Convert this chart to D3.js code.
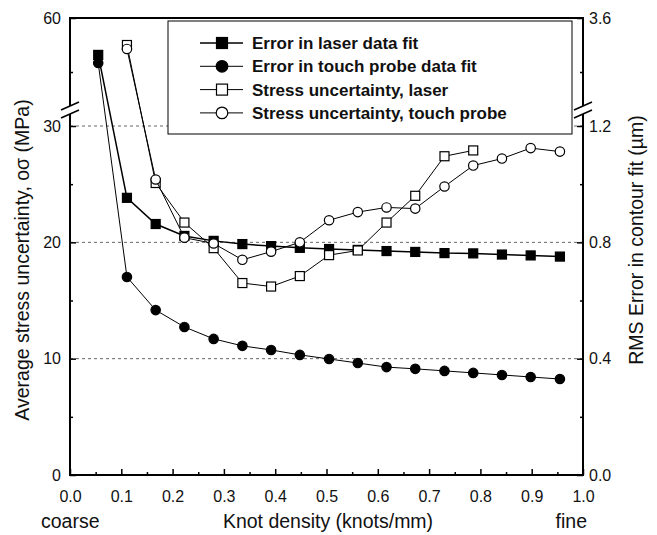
<!DOCTYPE html>
<html>
<head>
<meta charset="utf-8">
<script src="https://cdn.jsdelivr.net/npm/d3@7"></script>
<style>
  body { margin: 0; background: #fff; }
  svg text { font-family: Arial, "Liberation Sans", Helvetica, sans-serif; fill: #111; }
</style>
</head>
<body>
<div id="chart"></div>
<script>
const WIDTH = 657;
const HEIGHT = 535;

// knot density of each fit (knots/mm)
const knotDensity = [0.055, 0.111, 0.167, 0.223, 0.280, 0.336, 0.392, 0.448, 0.505,
  0.561, 0.617, 0.673, 0.730, 0.786, 0.842, 0.898, 0.955];

// RMS error in contour fit (um), right axis
const laserFitError = [2.78, 0.953, 0.863, 0.822, 0.805, 0.794, 0.787, 0.781, 0.777,
  0.774, 0.770, 0.767, 0.763, 0.762, 0.758, 0.755, 0.751];
const probeFitError = [2.60, 0.681, 0.567, 0.509, 0.468, 0.444, 0.430, 0.413, 0.399,
  0.385, 0.371, 0.365, 0.358, 0.351, 0.344, 0.337, 0.330];

// average stress uncertainty (MPa), left axis
const laserStress = [null, 52.5, 25.1, 21.7, 19.5, 16.5, 16.2, 17.1, 18.9,
  19.3, 21.7, 24.0, 27.4, 27.9, null, null, null];
const probeStress = [null, 51.4, 25.4, 20.4, 19.9, 18.5, 19.2, 20.0, 21.9,
  22.6, 23.0, 22.9, 24.8, 26.6, 27.2, 28.1, 27.8];

// tick labels
const xTicks = [0, 0.1, 0.2, 0.3, 0.4, 0.5, 0.6, 0.7, 0.8, 0.9, 1.0];
const xMinor = [0.05, 0.15, 0.25, 0.35, 0.45, 0.55, 0.65, 0.75, 0.85, 0.95];
const stressTicks = [0, 10, 20, 30, 60];
const stressMinor = [5, 15, 25, 45];
const rmsTicks = [0, 0.4, 0.8, 1.2, 3.6];
const rmsMinor = [0.2, 0.6, 1.0, 2.4];
const stressGrid = [10, 20, 30];

const legendNames = [
  'Error in laser data fit',
  'Error in touch probe data fit',
  'Stress uncertainty, laser',
  'Stress uncertainty, touch probe'
];

const plotLeft = 70, plotRight = 583, plotTop = 18, plotBottom = 475;

const x = d3.scaleLinear().domain([0, 1]).range([plotLeft, plotRight]);
// broken axes: lower part 0-30 (0-1.2), compressed upper part 30-60 (1.2-3.6)
const yStress = d3.scaleLinear().domain([0, 30, 60]).range([plotBottom, 126, plotTop]);
const yRms = d3.scaleLinear().domain([0, 1.2, 3.6]).range([plotBottom, 126, plotTop]);

const series = [
  { name: legendNames[0], values: laserFitError, y: yRms, shape: 'square', filled: true, lw: 1.5 },
  { name: legendNames[1], values: probeFitError, y: yRms, shape: 'circle', filled: true, lw: 1 },
  { name: legendNames[2], values: laserStress, y: yStress, shape: 'square', filled: false, lw: 1 },
  { name: legendNames[3], values: probeStress, y: yStress, shape: 'circle', filled: false, lw: 1 }
];

const svg = d3.select('#chart')
  .append('svg')
  .attr('width', WIDTH)
  .attr('height', HEIGHT);

// dashed grid lines
svg.append('g')
  .selectAll('line')
  .data(stressGrid)
  .enter()
  .append('line')
  .attr('x1', plotLeft)
  .attr('x2', plotRight)
  .attr('y1', d => yStress(d))
  .attr('y2', d => yStress(d))
  .attr('stroke', '#666')
  .attr('stroke-width', 1)
  .attr('stroke-dasharray', '3,3');

function styleAxis(g) {
  g.select('.domain').remove();
  g.selectAll('.tick line').attr('stroke', '#000').attr('stroke-width', 1.5);
  g.selectAll('.tick text').style('font-size', '16px');
}

// bottom axis
svg.append('g')
  .attr('transform', `translate(0,${plotBottom})`)
  .call(d3.axisBottom(x).tickValues(xTicks).tickSize(-6).tickPadding(16).tickFormat(d3.format('.1f')))
  .call(styleAxis);
svg.append('g')
  .attr('transform', `translate(0,${plotBottom})`)
  .call(d3.axisBottom(x).tickValues(xMinor).tickSize(-3).tickFormat(''))
  .call(styleAxis);

// left axis
svg.append('g')
  .attr('transform', `translate(${plotLeft},0)`)
  .call(d3.axisLeft(yStress).tickValues(stressTicks).tickSize(-6).tickPadding(9).tickFormat(d3.format('d')))
  .call(styleAxis);
svg.append('g')
  .attr('transform', `translate(${plotLeft},0)`)
  .call(d3.axisLeft(yStress).tickValues(stressMinor).tickSize(-3).tickFormat(''))
  .call(styleAxis);

// right axis
svg.append('g')
  .attr('transform', `translate(${plotRight},0)`)
  .call(d3.axisRight(yRms).tickValues(rmsTicks).tickSize(-6).tickPadding(6).tickFormat(d3.format('.1f')))
  .call(styleAxis);
svg.append('g')
  .attr('transform', `translate(${plotRight},0)`)
  .call(d3.axisRight(yRms).tickValues(rmsMinor).tickSize(-3).tickFormat(''))
  .call(styleAxis);

// frame
svg.append('rect')
  .attr('x', plotLeft)
  .attr('y', plotTop)
  .attr('width', plotRight - plotLeft)
  .attr('height', plotBottom - plotTop)
  .attr('fill', 'none')
  .attr('stroke', '#000')
  .attr('stroke-width', 2);

// axis break marks
const breakY = yStress(30) - 16;
[plotLeft, plotRight].forEach(ax => {
  svg.append('line')
    .attr('x1', ax).attr('x2', ax)
    .attr('y1', breakY - 4).attr('y2', breakY + 4)
    .attr('stroke', '#fff').attr('stroke-width', 4);
  [-4, 4].forEach(off => {
    svg.append('line')
      .attr('x1', ax - 9).attr('y1', breakY + off + 4)
      .attr('x2', ax + 9).attr('y2', breakY + off - 4)
      .attr('stroke', '#000').attr('stroke-width', 1.5);
  });
});

// data
series.forEach(s => {
  const pts = knotDensity.map((k, i) => ({ k, v: s.values[i] })).filter(d => d.v != null);
  const line = d3.line().x(d => x(d.k)).y(d => s.y(d.v));

  svg.append('path')
    .datum(pts)
    .attr('d', line)
    .attr('fill', 'none')
    .attr('stroke', '#000')
    .attr('stroke-width', s.lw);

  const g = svg.append('g');
  if (s.shape === 'square') {
    g.selectAll('rect')
      .data(pts)
      .enter()
      .append('rect')
      .attr('x', d => x(d.k) - 4.5)
      .attr('y', d => s.y(d.v) - 4.5)
      .attr('width', 9)
      .attr('height', 9)
      .attr('fill', s.filled ? '#000' : '#fff')
      .attr('stroke', '#000')
      .attr('stroke-width', 1.2);
  } else {
    g.selectAll('circle')
      .data(pts)
      .enter()
      .append('circle')
      .attr('cx', d => x(d.k))
      .attr('cy', d => s.y(d.v))
      .attr('r', 4.7)
      .attr('fill', s.filled ? '#000' : '#fff')
      .attr('stroke', '#000')
      .attr('stroke-width', 1.2);
  }
});

// legend
const legend = svg.append('g');
legend.append('rect')
  .attr('x', 168)
  .attr('y', 21)
  .attr('width', 404)
  .attr('height', 113)
  .attr('fill', '#fff')
  .attr('stroke', '#000')
  .attr('stroke-width', 1);

const rows = legend.selectAll('g.row')
  .data(series)
  .enter()
  .append('g')
  .attr('class', 'row')
  .attr('transform', (d, i) => `translate(0,${43 + i * 23.3})`);

rows.append('line')
  .attr('x1', 200).attr('x2', 243)
  .attr('stroke', '#000')
  .attr('stroke-width', d => d.lw);

rows.each(function(d) {
  const r = d3.select(this);
  if (d.shape === 'square') {
    r.append('rect').attr('x', 216.5).attr('y', -5.5).attr('width', 11).attr('height', 11)
      .attr('fill', d.filled ? '#000' : '#fff').attr('stroke', '#000').attr('stroke-width', 1.2);
  } else {
    r.append('circle').attr('cx', 222).attr('cy', 0).attr('r', 5.8)
      .attr('fill', d.filled ? '#000' : '#fff').attr('stroke', '#000').attr('stroke-width', 1.2);
  }
});

rows.append('text')
  .attr('x', 252)
  .attr('dy', '0.35em')
  .style('font-size', '17px')
  .style('font-weight', 'bold')
  .text(d => d.name);

// axis titles
svg.append('text')
  .attr('transform', `translate(29,260) rotate(-90)`)
  .attr('text-anchor', 'middle')
  .style('font-size', '19.5px')
  .text('Average stress uncertainty, oσ (MPa)');

svg.append('text')
  .attr('transform', `translate(643,240) rotate(-90)`)
  .attr('text-anchor', 'middle')
  .style('font-size', '19.5px')
  .text('RMS Error in contour fit (µm)');

svg.append('text')
  .attr('x', 328)
  .attr('y', 528)
  .attr('text-anchor', 'middle')
  .style('font-size', '19.5px')
  .text('Knot density (knots/mm)');

svg.append('text')
  .attr('x', 41)
  .attr('y', 528)
  .style('font-size', '19.5px')
  .text('coarse');

svg.append('text')
  .attr('x', 587)
  .attr('y', 528)
  .attr('text-anchor', 'end')
  .style('font-size', '19.5px')
  .text('fine');
</script>
</body>
</html>
